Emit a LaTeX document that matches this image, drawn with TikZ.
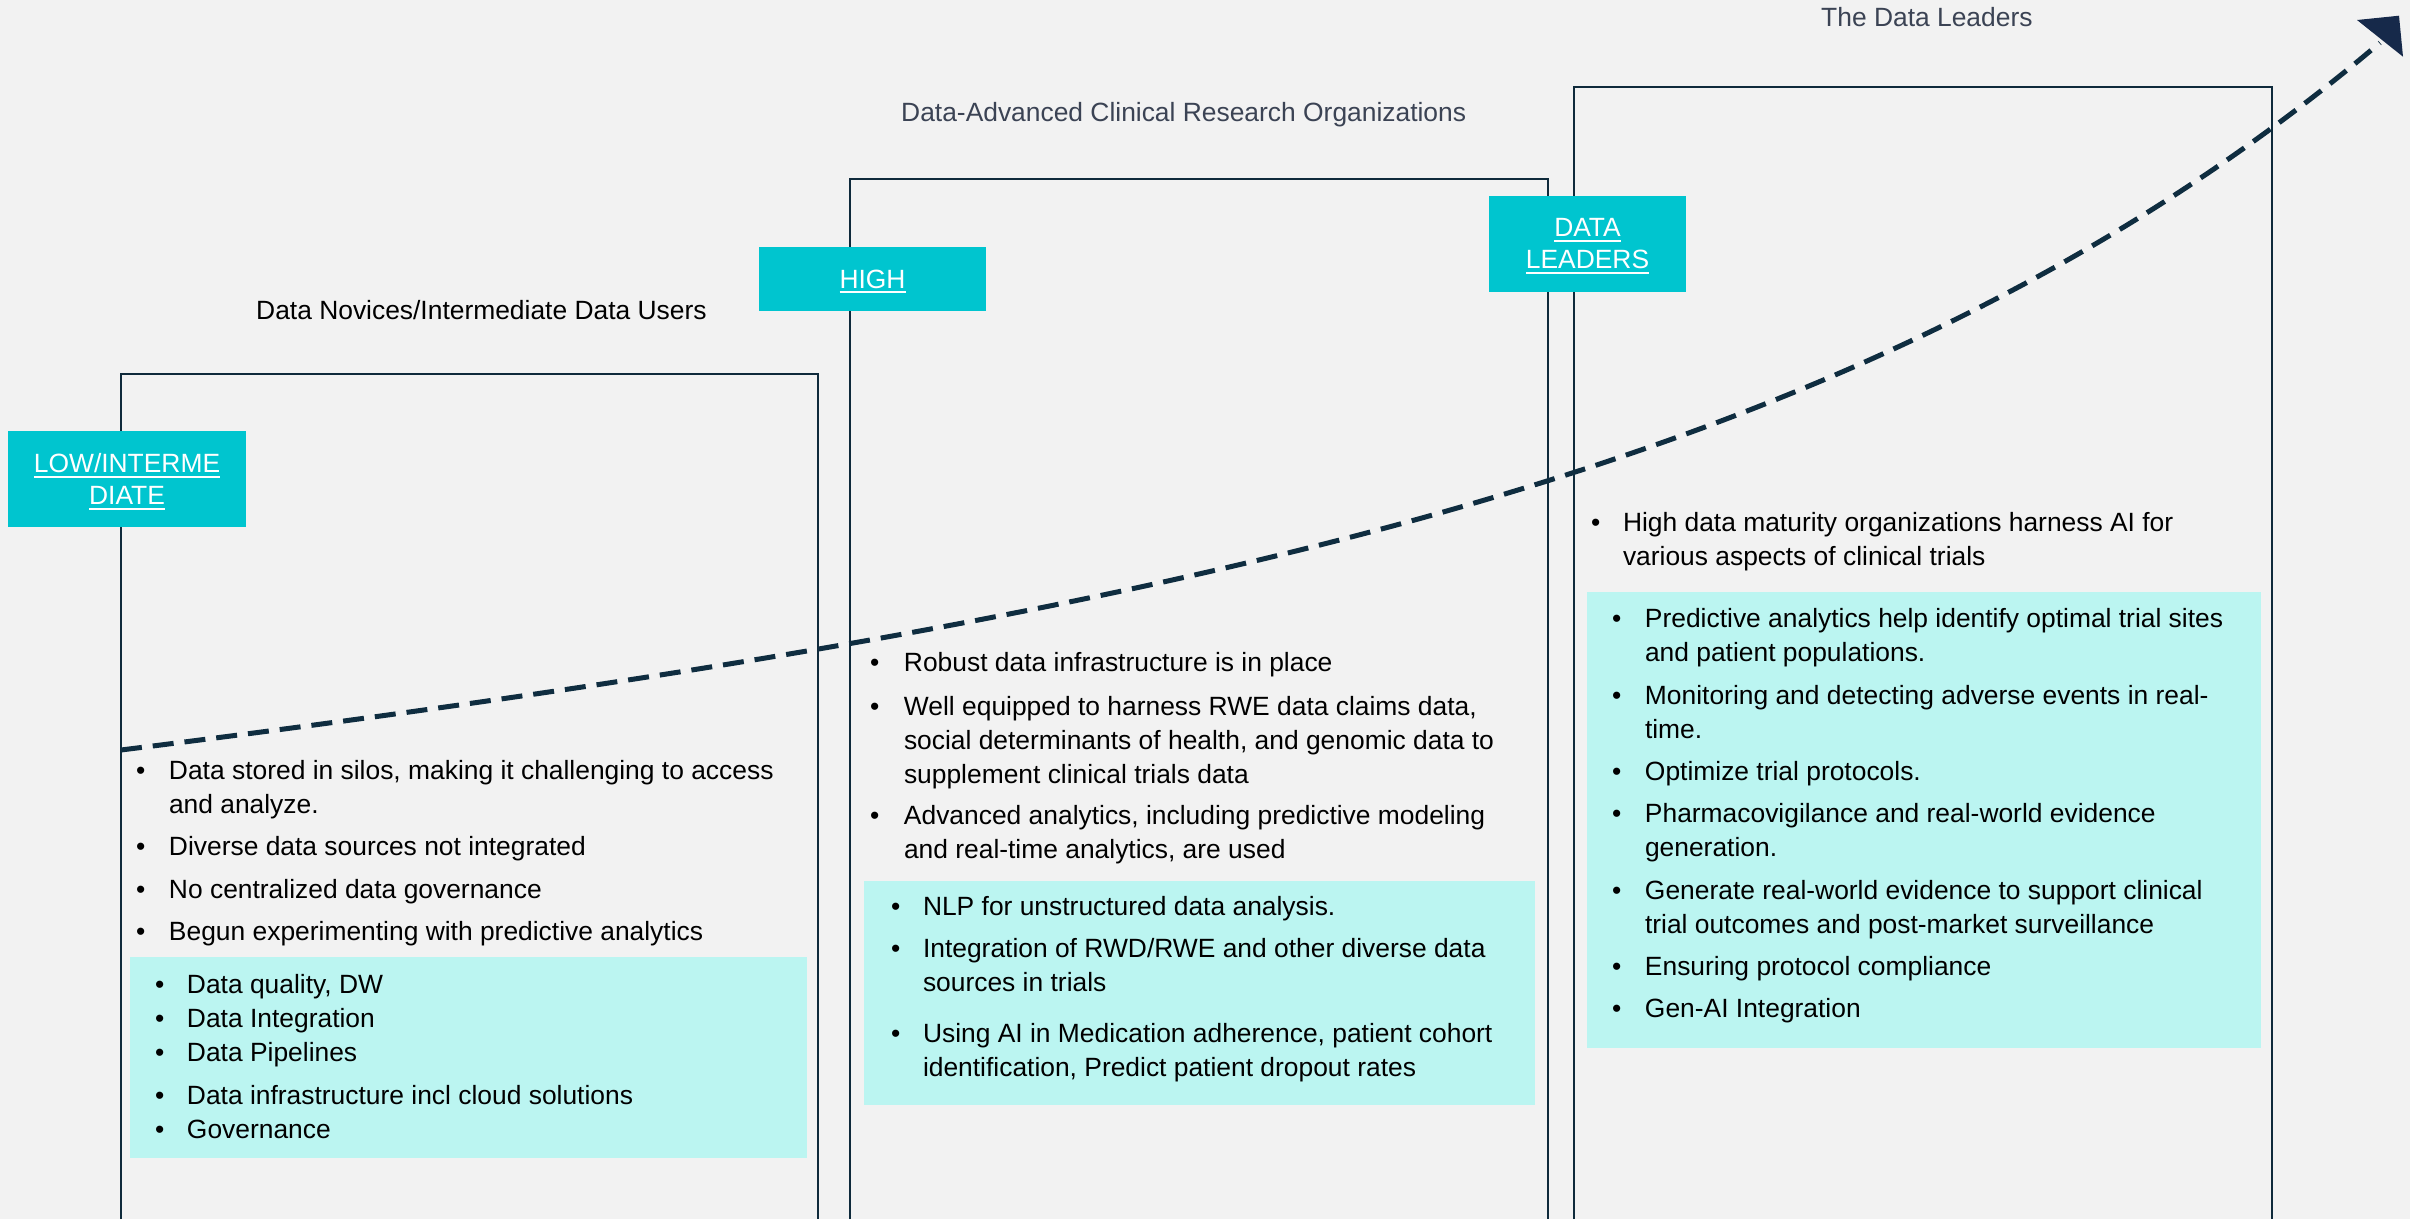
\documentclass[tikz,border=0pt]{standalone}
\usepackage{fontspec}
\setmainfont{Liberation Sans}
\usetikzlibrary{arrows.meta}
\definecolor{bgc}{HTML}{F2F2F2}
\definecolor{framec}{HTML}{0F2A3B}
\definecolor{tagcol}{HTML}{00C5CF}
\definecolor{litec}{HTML}{BBF5F1}
\definecolor{curvec}{HTML}{0F2D40}
\definecolor{headc}{HTML}{16294A}
\definecolor{hdrc}{HTML}{3B4354}
\newcommand{\bodyfont}{\fontsize{26.4}{34}\selectfont}
\newcommand{\ulx}[1]{\setbox0=\hbox{#1}\rlap{\smash{\rule[-5pt]{\wd0}{2pt}}}\box0}
\newcommand{\bitem}[6]{%
  \node[itm] (#1) at (#2,#3) {\parbox[t]{#5pt}{\hangindent=#4pt\hangafter=1\makebox[#4pt][l]{•}#6}};}
\tikzset{
  itm/.style={anchor=base west, inner sep=0pt, outer sep=0pt, font=\bodyfont, text=black},
  hdr/.style={anchor=base west, inner sep=0pt, font=\bodyfont},
  tagbox/.style={fill=tagcol, text=white, align=center, inner sep=0pt, font=\fontsize{26.4}{32}\selectfont},
  litebox/.style={fill=litec, inner sep=0pt, anchor=north west},
  frameline/.style={draw=framec, line width=2.2pt},
  trend/.style={draw=curvec, line width=5pt, dash pattern=on 21pt off 11pt}
}
\begin{document}
\begin{tikzpicture}[x=1pt,y=-1pt]
\useasboundingbox (0,0) rectangle (2410,1219);
\fill[bgc] (0,0) rectangle (2410,1219);

% column frames (open at the bottom)
\draw[frameline] (121,1219) -- (121,374) -- (818,374) -- (818,1219);
\draw[frameline] (850,1219) -- (850,179) -- (1548,179) -- (1548,1219);
\draw[frameline] (1574,1219) -- (1574,87) -- (2272,87) -- (2272,1219);

% headers
\node[hdr, text=black] (h1) at (256,319) {Data Novices/Intermediate Data Users};
\node[hdr, text=hdrc] (h2) at (901,121.7) {Data-Advanced Clinical Research Organizations};
\node[hdr, text=hdrc] (h3) at (1821,26) {The Data Leaders};

% level tags
\node[tagbox, minimum width=238pt, minimum height=96pt] (low) at (127,479) {\ulx{LOW/INTERME}\\\ulx{DIATE}};
\node[tagbox, minimum width=227pt, minimum height=64pt] (high) at (872.5,279) {\ulx{HIGH}};
\node[tagbox, minimum width=197pt, minimum height=96pt] (lead) at (1587.5,244) {\ulx{DATA}\\\ulx{LEADERS}};

% light boxes
\node[litebox, minimum width=677pt, minimum height=201pt] (l1) at (130,957) {};
\node[litebox, minimum width=671pt, minimum height=224pt] (l2) at (864,881) {};
\node[litebox, minimum width=674pt, minimum height=456pt] (l3) at (1587,592) {};

% column 1
\bitem{a1}{136}{779}{33}{700}{Data stored in silos, making it challenging to access\\and analyze.}
\bitem{a2}{136}{855}{33}{700}{Diverse data sources not integrated}
\bitem{a3}{136}{898}{33}{700}{No centralized data governance}
\bitem{a4}{136}{940}{33}{700}{Begun experimenting with predictive analytics}
\bitem{b1}{155}{993}{32}{700}{Data quality, DW}
\bitem{b2}{155}{1027}{32}{700}{Data Integration}
\bitem{b3}{155}{1061}{32}{700}{Data Pipelines}
\bitem{b4}{155}{1104}{32}{700}{Data infrastructure incl cloud solutions}
\bitem{b5}{155}{1138}{32}{700}{Governance}

% column 2
\bitem{c1}{870}{671.7}{34}{700}{Robust data infrastructure is in place}
\bitem{c2}{870}{715}{34}{700}{Well equipped to harness RWE data claims data,\\social determinants of health, and genomic data to\\supplement clinical trials data}
\bitem{c3}{870}{824}{34}{700}{Advanced analytics, including predictive modeling\\and real-time analytics, are used}
\bitem{d1}{891}{915}{32}{700}{NLP for unstructured data analysis.}
\bitem{d2}{891}{957.7}{32}{700}{Integration of RWD/RWE and other diverse data\\sources in trials}
\bitem{d3}{891}{1042.7}{32}{700}{Using AI in Medication adherence, patient cohort\\identification, Predict patient dropout rates}

% column 3
\bitem{e1}{1591}{531.7}{32}{700}{High data maturity organizations harness AI for\\various aspects of clinical trials}
\bitem{f1}{1612}{627}{33}{700}{Predictive analytics help identify optimal trial sites\\and patient populations.}
\bitem{f2}{1612}{704}{33}{700}{Monitoring and detecting adverse events in real-\\time.}
\bitem{f3}{1612}{780}{33}{700}{Optimize trial protocols.}
\bitem{f4}{1612}{822.5}{33}{700}{Pharmacovigilance and real-world evidence\\generation.}
\bitem{f5}{1612}{899}{33}{700}{Generate real-world evidence to support clinical\\trial outcomes and post-market surveillance}
\bitem{f6}{1612}{975.6}{33}{700}{Ensuring protocol compliance}
\bitem{f7}{1612}{1017.7}{33}{700}{Gen-AI Integration}

% trend curve with arrowhead
\coordinate (cs) at (121,750);
\coordinate (ce) at (2380,38);
\coordinate (tipA) at (2399,15.7);
\coordinate (tipB) at (2357,20);
\coordinate (tipC) at (2403,56.7);
\draw[trend] plot[domain=0:2259, samples=90, smooth] ({121+\x}, {750-0.1*\x-17*(exp(0.0015*\x)-1)});
\fill[headc] (tipA) -- (tipB) -- (tipC) -- cycle;
\end{tikzpicture}
\end{document}
